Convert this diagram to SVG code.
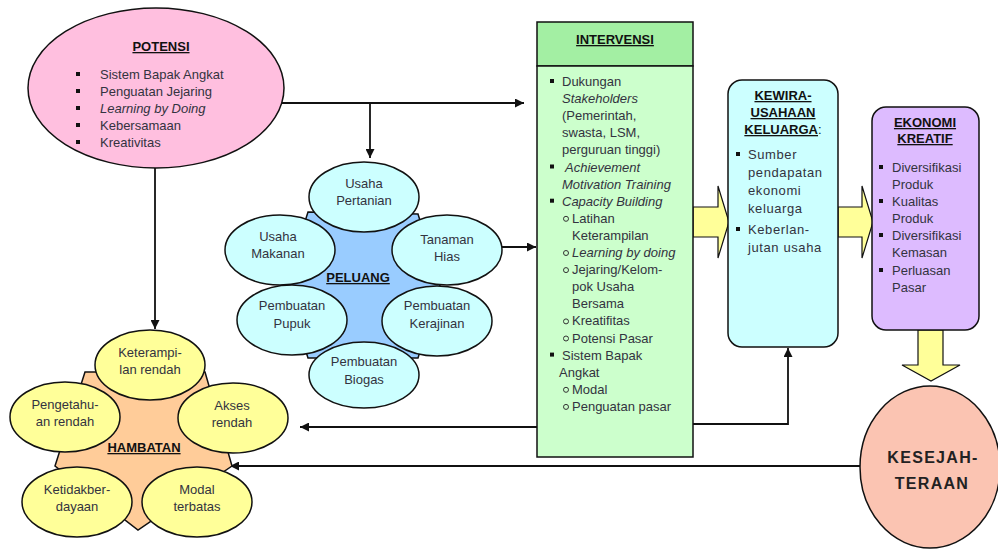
<svg xmlns="http://www.w3.org/2000/svg" width="998" height="552" viewBox="0 0 998 552">
<defs>
<style>
.t{font-family:"Liberation Sans",Arial,sans-serif;font-size:13px;fill:#333340}
.h{font-family:"Liberation Sans",Arial,sans-serif;font-size:13px;font-weight:bold;fill:#111;text-anchor:middle}
.big{font-size:16px;letter-spacing:1.3px;fill:#222}
.u{text-decoration:underline}
.c{text-anchor:middle}
.i{font-style:italic}
.ks{letter-spacing:0.6px}
.sh{stroke:#111;stroke-width:1.5}
.ln{fill:none;stroke:#111;stroke-width:1.8}
.sq{fill:#111}
.ob{fill:none;stroke:#333;stroke-width:1}
.pel{fill:#CCFFFF;stroke:#111;stroke-width:1.5}
.ham{fill:#FFFF99;stroke:#111;stroke-width:1.5}
.ya{fill:#FFFF99;stroke:#111;stroke-width:1.2}
</style>
<marker id="ah" viewBox="0 0 10 10" refX="10" refY="5" markerWidth="9" markerHeight="9" markerUnits="userSpaceOnUse" orient="auto">
<path d="M0,0 L10,5 L0,10 z" fill="#111"/>
</marker>
</defs>
<rect width="998" height="552" fill="#fff"/>

<g id="connectors">
<path class="ln" d="M282,103 H524" marker-end="url(#ah)"/>
<path class="ln" d="M370,103 V158" marker-end="url(#ah)"/>
<path class="ln" d="M155,168 V329" marker-end="url(#ah)"/>
<path class="ln" d="M502,247 H536" marker-end="url(#ah)"/>
<path class="ln" d="M537,427 H300" marker-end="url(#ah)"/>
<path class="ln" d="M693,424 H788 V348" marker-end="url(#ah)"/>
<path class="ln" d="M860,466 H230" marker-end="url(#ah)"/>
<polygon class="ya" points="693,207 718,207 718,186 729,222 718,258 718,237 693,237"/>
<polygon class="ya" points="838,207 862,207 862,186 873,222 862,258 862,237 838,237"/>
<polygon class="ya" points="918,330 943,330 943,365 960,365 931,381 902,365 918,365"/>
</g>

<g id="potensi">
<ellipse cx="156" cy="88" rx="128" ry="80" fill="#FFBFDF" class="sh"/>
<text class="h u" x="161" y="51">POTENSI</text>
<rect class="sq" x="76" y="72" width="4" height="4"/>
<rect class="sq" x="76" y="89" width="4" height="4"/>
<rect class="sq" x="76" y="106" width="4" height="4"/>
<rect class="sq" x="76" y="123" width="4" height="4"/>
<rect class="sq" x="76" y="140" width="4" height="4"/>
<text class="t" x="100" y="79">Sistem Bapak Angkat</text>
<text class="t" x="100" y="96">Penguatan Jejaring</text>
<text class="t i" x="100" y="113">Learning by Doing</text>
<text class="t" x="100" y="130">Kebersamaan</text>
<text class="t" x="100" y="147">Kreativitas</text>
</g>

<g id="peluang">
<polygon points="308,212 418,214 440,286 418,358 308,358 285,285" fill="#99CCFF" class="sh"/>
<ellipse class="pel" cx="364" cy="197" rx="55" ry="35"/>
<ellipse class="pel" cx="280" cy="250" rx="55" ry="35"/>
<ellipse class="pel" cx="447" cy="250" rx="55" ry="35"/>
<ellipse class="pel" cx="292" cy="320" rx="55" ry="35"/>
<ellipse class="pel" cx="437" cy="321" rx="55" ry="35"/>
<ellipse class="pel" cx="364" cy="375" rx="55" ry="33"/>
<text class="t c" x="364" y="188">Usaha</text><text class="t c" x="364" y="205">Pertanian</text>
<text class="t c" x="278" y="241">Usaha</text><text class="t c" x="278" y="258">Makanan</text>
<text class="t c" x="447" y="244">Tanaman</text><text class="t c" x="447" y="261">Hias</text>
<text class="t c" x="292" y="310">Pembuatan</text><text class="t c" x="292" y="328">Pupuk</text>
<text class="t c" x="437" y="310">Pembuatan</text><text class="t c" x="437" y="328">Kerajinan</text>
<text class="t c" x="364" y="366">Pembuatan</text><text class="t c" x="364" y="384">Biogas</text>
<text class="h u" x="358" y="282">PELUANG</text>
</g>

<g id="hambatan">
<polygon points="85,372 205,372 232,466 138,530 55,466" fill="#FFCC99" class="sh"/>
<ellipse class="ham" cx="150" cy="365" rx="55" ry="35"/>
<ellipse class="ham" cx="65" cy="417" rx="55" ry="35"/>
<ellipse class="ham" cx="233" cy="418" rx="55" ry="35"/>
<ellipse class="ham" cx="77" cy="502" rx="55" ry="35"/>
<ellipse class="ham" cx="197" cy="502" rx="55" ry="35"/>
<text class="t c" x="150" y="357">Keterampi-</text><text class="t c" x="150" y="374">lan rendah</text>
<text class="t c" x="65" y="409">Pengetahu-</text><text class="t c" x="65" y="426">an rendah</text>
<text class="t c" x="232" y="410">Akses</text><text class="t c" x="232" y="427">rendah</text>
<text class="t c" x="77" y="494">Ketidakber-</text><text class="t c" x="77" y="511">dayaan</text>
<text class="t c" x="197" y="494">Modal</text><text class="t c" x="197" y="511">terbatas</text>
<text class="h u" x="144" y="452">HAMBATAN</text>
</g>

<g id="intervensi">
<rect x="537" y="22" width="156" height="44" fill="#A3EFA3" class="sh"/>
<rect x="537" y="66" width="156" height="391" fill="#CCFFCC" class="sh"/>
<text class="h u" x="615" y="44">INTERVENSI</text>
<rect class="sq" x="550" y="79" width="4" height="4"/>
<rect class="sq" x="550" y="164.5" width="4" height="4"/>
<rect class="sq" x="550" y="198.7" width="4" height="4"/>
<rect class="sq" x="550" y="352.6" width="4" height="4"/>
<circle class="ob" cx="566" cy="218.8" r="2.5"/>
<circle class="ob" cx="566" cy="253" r="2.5"/>
<circle class="ob" cx="566" cy="270.1" r="2.5"/>
<circle class="ob" cx="566" cy="321.4" r="2.5"/>
<circle class="ob" cx="566" cy="338.5" r="2.5"/>
<circle class="ob" cx="566" cy="389.8" r="2.5"/>
<circle class="ob" cx="566" cy="406.9" r="2.5"/>
<text class="t" x="562" y="86">Dukungan</text>
<text class="t i" x="562" y="103.1">Stakeholders</text>
<text class="t" x="562" y="120.2">(Pemerintah,</text>
<text class="t" x="562" y="137.3">swasta, LSM,</text>
<text class="t" x="562" y="154.4">perguruan tinggi)</text>
<text class="t i" x="565" y="171.5">Achievement</text>
<text class="t i" x="562" y="188.6">Motivation Training</text>
<text class="t i" x="562" y="205.7">Capacity Building</text>
<text class="t" x="572" y="222.8">Latihan</text>
<text class="t" x="572" y="239.9">Keterampilan</text>
<text class="t i" x="572" y="257">Learning by doing</text>
<text class="t" x="572" y="274.1">Jejaring/Kelom-</text>
<text class="t" x="572" y="291.2">pok Usaha</text>
<text class="t" x="572" y="308.3">Bersama</text>
<text class="t" x="572" y="325.4">Kreatifitas</text>
<text class="t" x="572" y="342.5">Potensi Pasar</text>
<text class="t" x="562" y="359.6">Sistem Bapak</text>
<text class="t" x="559" y="376.7">Angkat</text>
<text class="t" x="572" y="393.8">Modal</text>
<text class="t" x="572" y="410.9">Penguatan pasar</text>
</g>

<g id="kewirausahaan">
<rect x="728" y="80" width="110" height="267" rx="14" fill="#CCFFFF" class="sh"/>
<text class="h u" x="783" y="100">KEWIRA-</text>
<text class="h u" x="783" y="117">USAHAAN</text>
<text class="h" x="783" y="134"><tspan class="u">KELUARGA</tspan><tspan font-weight="normal">:</tspan></text>
<rect class="sq" x="736" y="152" width="4" height="4"/>
<rect class="sq" x="736" y="227" width="4" height="4"/>
<text class="t ks" x="748" y="159">Sumber</text>
<text class="t ks" x="748" y="177">pendapatan</text>
<text class="t ks" x="748" y="195">ekonomi</text>
<text class="t ks" x="748" y="213">keluarga</text>
<text class="t ks" x="748" y="234">Keberlan-</text>
<text class="t ks" x="748" y="252">jutan usaha</text>
</g>

<g id="ekonomi-kreatif">
<rect x="872" y="107" width="107" height="223" rx="14" fill="#DDBBFF" class="sh"/>
<text class="h u" x="925" y="127">EKONOMI</text>
<text class="h u" x="925" y="143">KREATIF</text>
<rect class="sq" x="879" y="165" width="4" height="4"/>
<rect class="sq" x="879" y="199" width="4" height="4"/>
<rect class="sq" x="879" y="233" width="4" height="4"/>
<rect class="sq" x="879" y="268" width="4" height="4"/>
<text class="t" x="892" y="172">Diversifikasi</text>
<text class="t" x="892" y="189">Produk</text>
<text class="t" x="892" y="206">Kualitas</text>
<text class="t" x="892" y="223">Produk</text>
<text class="t" x="892" y="240">Diversifikasi</text>
<text class="t" x="892" y="257">Kemasan</text>
<text class="t" x="892" y="275">Perluasan</text>
<text class="t" x="892" y="292">Pasar</text>
</g>

<g id="kesejahteraan">
<ellipse cx="930" cy="467" rx="70" ry="81" fill="#FBC4B2" class="sh"/>
<text class="h big" x="933" y="463">KESEJAH-</text>
<text class="h big" x="932" y="489">TERAAN</text>
</g>
</svg>
